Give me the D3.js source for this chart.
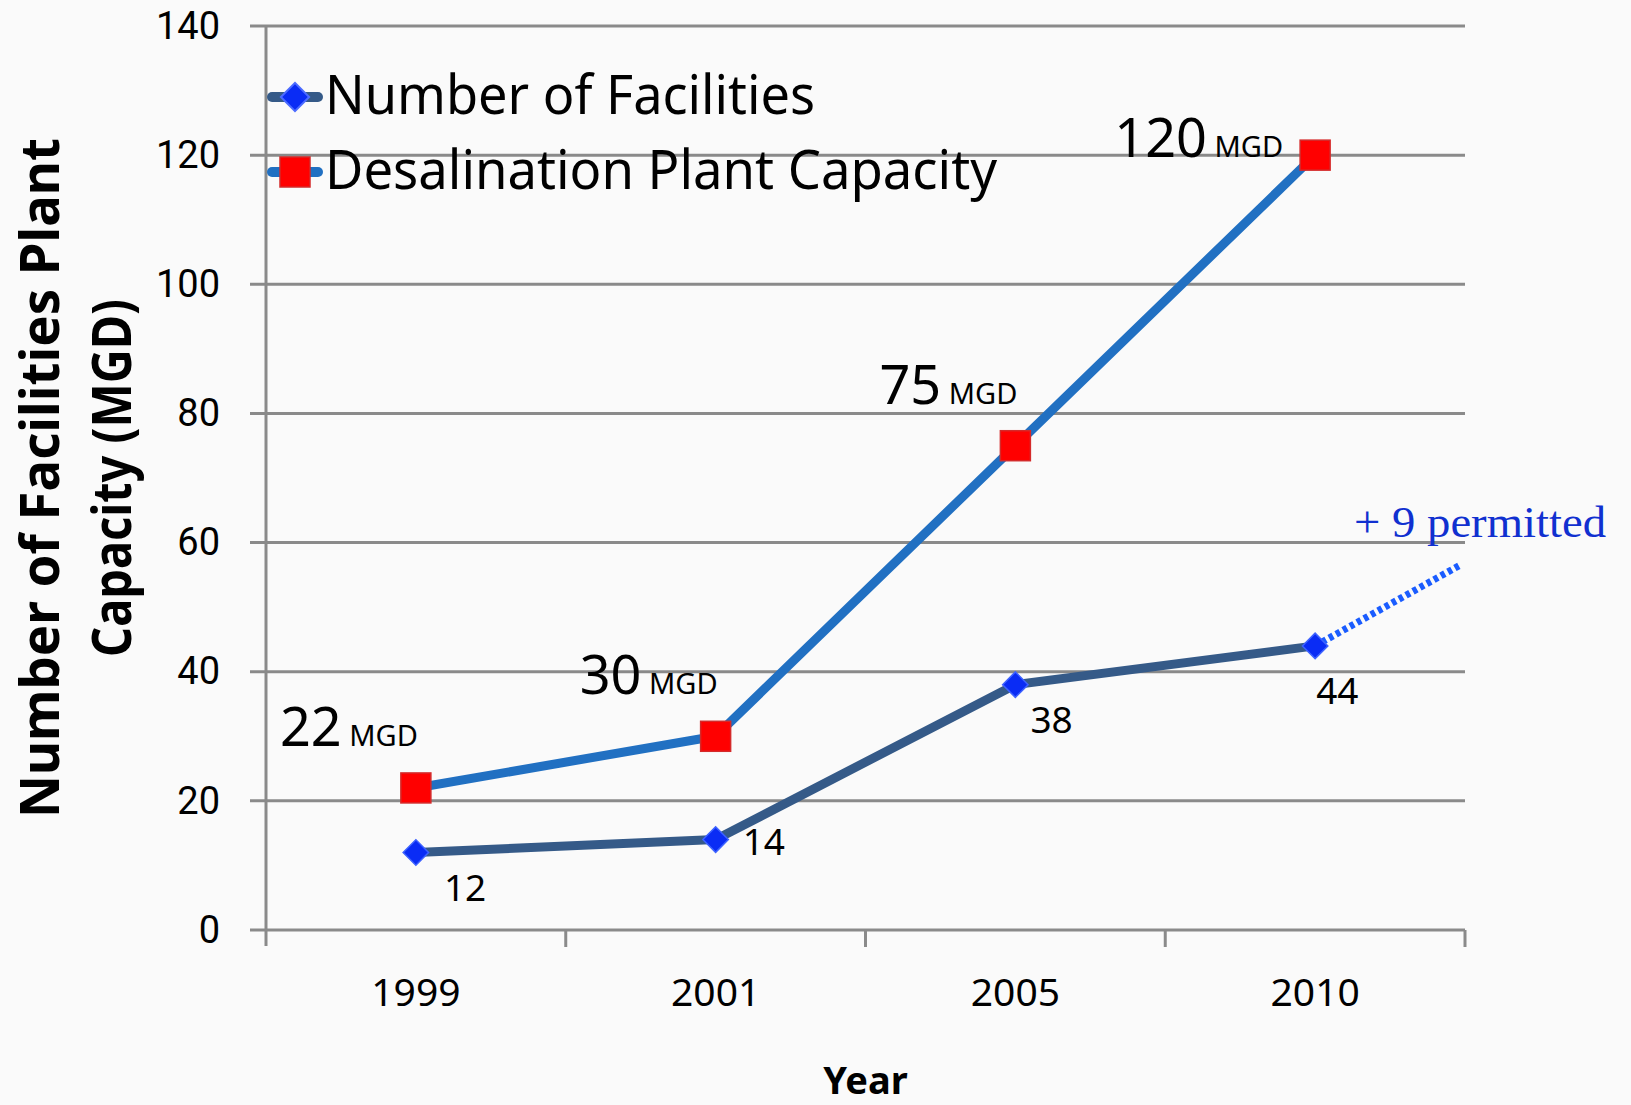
<!DOCTYPE html>
<html>
<head>
<meta charset="utf-8">
<script src="https://cdn.jsdelivr.net/npm/d3@7"></script>
<style>
  html, body { margin: 0; padding: 0; background: #fafafa; }
  svg { display: block; }
  text { font-family: "Noto Sans", "Open Sans", sans-serif; fill: #000; }
</style>
</head>
<body>
<svg id="svg" width="1631" height="1105"></svg>
<script>
// data
var years = ["1999", "2001", "2005", "2010"];
var facilities = [12, 14, 38, 44];
var capacity = [22, 30, 75, 120];
var permitted = [44, 56.5];   // dotted extension after 2010 (+9 permitted)
var yTicks = [0, 20, 40, 60, 80, 100, 120, 140];
var seriesNames = ["Number of Facilities", "Desalination Plant Capacity"];

var svg = d3.select('#svg');
svg.append("rect").attr("width", 1631).attr("height", 1105).attr("fill", "#fafafa");

var plot = { left: 266, right: 1465, top: 26, bottom: 930 };

var xScale = d3.scaleBand()
    .domain(years)
    .range([plot.left, plot.right])
    .padding(0);

var yScale = d3.scaleLinear()
    .domain([0, 140])
    .range([plot.bottom, plot.top]);

var cx = function(i) { return xScale(years[i]) + xScale.bandwidth() / 2; };

// gridlines + y axis
var yAxis = svg.append("g")
    .attr("transform", "translate(" + plot.left + ",0)")
    .call(d3.axisLeft(yScale).tickValues(yTicks).tickSize(16).tickPadding(30));
yAxis.select(".domain").remove();
yAxis.selectAll(".tick line").remove();
yAxis.selectAll(".tick text")
    .attr("font-size", 38)
    .style("font-family", "Roboto, 'Noto Sans', sans-serif")
    .attr("fill", "#000");

svg.append("g").selectAll("line").data(yTicks).enter()
    .append("line")
    .attr("x1", plot.left - 16)
    .attr("x2", plot.right)
    .attr("y1", function(d) { return yScale(d); })
    .attr("y2", function(d) { return yScale(d); })
    .attr("stroke", "#8a8a8a")
    .attr("stroke-width", 3);

svg.append("line")
    .attr("x1", plot.left).attr("x2", plot.left)
    .attr("y1", plot.top).attr("y2", plot.bottom + 16)
    .attr("stroke", "#8a8a8a").attr("stroke-width", 3);

// x axis
var xAxis = svg.append("g")
    .attr("transform", "translate(0," + plot.bottom + ")")
    .call(d3.axisBottom(xScale).tickSize(0).tickPadding(48));
xAxis.select(".domain").remove();
xAxis.selectAll(".tick text")
    .attr("font-size", 39)
    .attr("fill", "#000");

svg.append("g").selectAll("line").data(years).enter()
    .append("line")
    .attr("x1", function(d) { return xScale(d) + xScale.bandwidth(); })
    .attr("x2", function(d) { return xScale(d) + xScale.bandwidth(); })
    .attr("y1", plot.bottom)
    .attr("y2", plot.bottom + 17)
    .attr("stroke", "#8a8a8a").attr("stroke-width", 3);

// axis titles
svg.append("text")
    .attr("x", (plot.left + plot.right) / 2)
    .attr("y", 1094)
    .attr("text-anchor", "middle")
    .attr("font-size", 38)
    .attr("font-weight", "bold")
    .text("Year");

var yTitle = svg.append("g").attr("transform", "translate(0,478) rotate(-90)");
yTitle.append("text")
    .attr("x", 0).attr("y", 59)
    .attr("text-anchor", "middle")
    .attr("font-size", 54)
    .attr("font-weight", "bold")
    .attr("textLength", 680)
    .attr("lengthAdjust", "spacingAndGlyphs")
    .text("Number of Facilities Plant");
yTitle.append("text")
    .attr("x", 0).attr("y", 131)
    .attr("text-anchor", "middle")
    .attr("font-size", 54)
    .attr("font-weight", "bold")
    .attr("textLength", 358)
    .attr("lengthAdjust", "spacingAndGlyphs")
    .text("Capacity (MGD)");

// lines
var line = d3.line()
    .x(function(d, i) { return cx(i); })
    .y(function(d) { return yScale(d); });

svg.append("path")
    .datum(capacity)
    .attr("d", line)
    .attr("fill", "none")
    .attr("stroke", "#2170c2")
    .attr("stroke-width", 9)
    .attr("stroke-linejoin", "round");

svg.append("path")
    .datum(facilities)
    .attr("d", line)
    .attr("fill", "none")
    .attr("stroke", "#355a88")
    .attr("stroke-width", 9)
    .attr("stroke-linejoin", "round");

// dotted "permitted" extension
var last = years.length - 1;
svg.append("line")
    .attr("x1", cx(last))
    .attr("y1", yScale(permitted[0]))
    .attr("x2", plot.right - 5)
    .attr("y2", yScale(permitted[1]))
    .attr("stroke", "#1a5cff")
    .attr("stroke-width", 7)
    .attr("stroke-dasharray", "4.5,3.5");

svg.append("text")
    .attr("x", 1354).attr("y", 537)
    .style("font-family", "'Liberation Serif', 'DejaVu Serif', serif")
    .attr("font-size", 44)
    .attr("textLength", 252)
    .attr("lengthAdjust", "spacingAndGlyphs")
    .style("fill", "#1030d0")
    .text("+ 9 permitted");

// markers
svg.append("g").selectAll("rect").data(facilities).enter()
    .append("rect")
    .attr("x", -9).attr("y", -9)
    .attr("width", 18).attr("height", 18)
    .attr("transform", function(d, i) { return "translate(" + cx(i) + "," + yScale(d) + ") rotate(45)"; })
    .attr("fill", "#0a2cf5")
    .attr("stroke", "#3d62ff")
    .attr("stroke-width", 1.5);

svg.append("g").selectAll("rect").data(capacity).enter()
    .append("rect")
    .attr("x", function(d, i) { return cx(i) - 15; })
    .attr("y", function(d) { return yScale(d) - 15; })
    .attr("width", 30).attr("height", 30)
    .attr("fill", "#ff0000")
    .attr("stroke", "#d42a2a")
    .attr("stroke-width", 1.5);

// data labels
var facOffsets = [[28, 48], [27, 15], [15, 48], [1, 58]];
svg.append("g").selectAll("text").data(facilities).enter()
    .append("text")
    .attr("x", function(d, i) { return cx(i) + facOffsets[i][0]; })
    .attr("y", function(d, i) { return yScale(d) + facOffsets[i][1]; })
    .attr("font-size", 37)
    .text(function(d) { return d; });

var capLabels = svg.append("g").selectAll("text").data(capacity).enter()
    .append("text")
    .attr("text-anchor", "end")
    .attr("x", function(d, i) { return i === last ? cx(i) - 32 : cx(i) + 2; })
    .attr("y", function(d, i) { return i === last ? yScale(d) + 2 : yScale(d) - 42; });
capLabels.append("tspan").attr("font-size", 54).text(function(d) { return d; });
capLabels.append("tspan").attr("font-size", 29).text(" MGD");

// legend
var legend = svg.append("g");
var legendRows = [
    { name: seriesNames[0], color: "#355a88", y: 97, marker: "diamond" },
    { name: seriesNames[1], color: "#2170c2", y: 172, marker: "square" }
];
legendRows.forEach(function(r) {
    legend.append("line")
        .attr("x1", 272).attr("x2", 318)
        .attr("y1", r.y).attr("y2", r.y)
        .attr("stroke", r.color).attr("stroke-width", 10)
        .attr("stroke-linecap", "round");
    if (r.marker === "diamond") {
        legend.append("rect")
            .attr("x", -10).attr("y", -10).attr("width", 20).attr("height", 20)
            .attr("transform", "translate(295," + r.y + ") rotate(45)")
            .attr("fill", "#0a2cf5").attr("stroke", "#4d6cff").attr("stroke-width", 2);
    } else {
        legend.append("rect")
            .attr("x", 280).attr("y", r.y - 15).attr("width", 30).attr("height", 30)
            .attr("fill", "#ff0000").attr("stroke", "#d42a2a").attr("stroke-width", 1.5);
    }
    legend.append("text")
        .attr("x", 325).attr("y", r.y + 17)
        .attr("font-size", 54)
        .attr("textLength", r.marker === "diamond" ? 490 : 672)
        .attr("lengthAdjust", "spacingAndGlyphs")
        .text(r.name);
});
</script>
</body>
</html>
